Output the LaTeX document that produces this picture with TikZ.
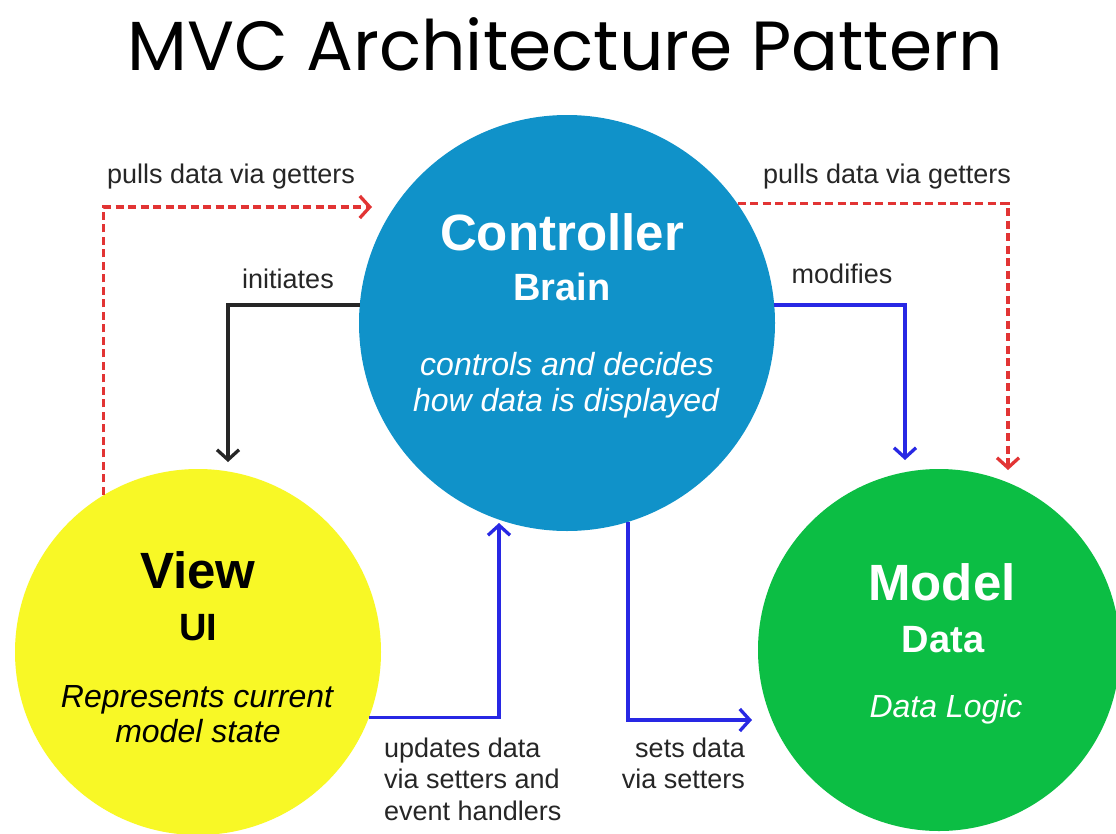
\documentclass[tikz,border=0pt]{standalone}
\usepackage{fontspec}
\usepackage{graphicx}
\setmainfont{Liberation Sans}
\newfontfamily\titlefont{Poppins}
\usetikzlibrary{arrows.meta}
\definecolor{ctrlblue}{RGB}{16,146,201}
\definecolor{viewyellow}{RGB}{248,248,38}
\definecolor{modelgreen}{RGB}{12,190,68}
\definecolor{redline}{RGB}{226,52,52}
\definecolor{blueline}{RGB}{40,40,228}
\definecolor{labelgray}{RGB}{38,38,38}
\begin{document}
\begin{tikzpicture}[x=1pt,y=-1pt,
  circ/.style={circle, inner sep=0pt, draw=none},
  lbl/.style={anchor=base, inner sep=0pt, text=labelgray, font=\fontsize{27}{32}\selectfont},
  headtxt/.style={anchor=base, inner sep=0pt, font=\fontsize{51}{60}\bfseries\selectfont},
  subtxt/.style={anchor=base, inner sep=0pt, font=\fontsize{38}{44}\bfseries\selectfont},
  desctxt/.style={anchor=base, inner sep=0pt, font=\fontsize{32}{38}\itshape\selectfont},
  conn/.style={line width=3.3pt, -{Straight Barb[length=10pt,width=22pt]}},
  getconn/.style={conn, draw=redline, dash pattern=on 8pt off 4.5pt},
  setconn/.style={conn, draw=blueline},
  initconn/.style={conn, draw=labelgray}
]
\useasboundingbox (0,0) rectangle (1116,833);
\fill[white] (0,0) rectangle (1116,833);

% title
\node[anchor=base, inner sep=0pt, text=black] (title) at (565,70)
  {\resizebox{875pt}{!}{\titlefont MVC Architecture Pattern}};

% circles
\node[circ, fill=ctrlblue, minimum size=416pt] (C) at (567,323) {};
\node[circ, fill=viewyellow, minimum size=366pt] (V) at (198,652) {};
\node[circ, fill=modelgreen, minimum size=362pt] (M) at (939,650) {};

% controller text
\node[headtxt, text=white] (c1) at (562,250) {Controller};
\node[subtxt, text=white] (c2) at (562,300) {Brain};
\node[desctxt, text=white] (c3) at (567,375) {controls and decides};
\node[desctxt, text=white] (c4) at (566,411) {how data is displayed};

% view text
\node[headtxt, text=black] (v1) at (198,588) {View};
\node[subtxt, text=black] (v2) at (198,640) {UI};
\node[desctxt, text=black] (v3) at (197,707) {Represents current};
\node[desctxt, text=black] (v4) at (198,742) {model state};

% model text
\node[headtxt, text=white] (m1) at (942,600) {Model};
\node[subtxt, text=white] (m2) at (943,652) {Data};
\node[desctxt, text=white] (m3) at (946,717) {Data Logic};

% arrow end points
\coordinate (tL) at (372,207);
\coordinate (tR) at (1008,470);
\coordinate (tI) at (228,462);
\coordinate (tMod) at (905,460);
\coordinate (tU) at (499,523);
\coordinate (tS) at (752,720);

% connectors
\draw[getconn] (V.121.3) |- (tL);
\draw[getconn] (C.35.6) -| (tR);
\draw[initconn] (C.175) -| (tI);
\draw[setconn] (C.5.8) -| (tMod);
\draw[setconn] (V.-21.8) -| (tU);
\draw[setconn] (C.-73) |- (tS);

% labels
\node[lbl] (l1) at (231,183) {pulls data via getters};
\node[lbl] (l2) at (887,183) {pulls data via getters};
\node[lbl] (l3) at (288,288) {initiates};
\node[lbl] (l4) at (842,283) {modifies};
\node[lbl, anchor=base west] (l5) at (384,757) {updates data};
\node[lbl, anchor=base west] (l6) at (384,788) {via setters and};
\node[lbl, anchor=base west] (l7) at (384,820) {event handlers};
\node[lbl, anchor=base east] (l8) at (745,757) {sets data};
\node[lbl, anchor=base east] (l9) at (745,788) {via setters};
\end{tikzpicture}
\end{document}
